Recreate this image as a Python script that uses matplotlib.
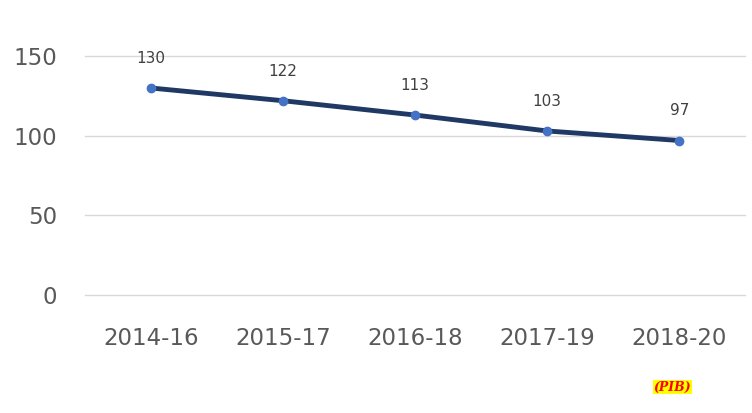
import matplotlib
matplotlib.use("Agg")
import matplotlib.pyplot as plt

periods = ["2014-16", "2015-17", "2016-18", "2017-19", "2018-20"]
mmr = [130, 122, 113, 103, 97]
y_ticks = [0, 50, 100, 150]

fig = plt.figure(figsize=(7.52, 4.13), dpi=100)
ax = fig.add_axes([0.113, 0.286, 0.878, 0.578])

x = range(len(periods))
ax.plot(x, mmr, color="#1f3864", linewidth=3.5, zorder=2)
ax.plot(x, mmr, linestyle="none", marker="o", markersize=6,
        color="#4472c4", zorder=3)

for i, v in enumerate(mmr):
    ax.annotate(str(v), (i, v), xytext=(0, 16), textcoords="offset points",
                ha="center", va="bottom", fontsize=11, color="#404040")

ax.set_xlim(-0.5, len(periods) - 0.5)
ax.set_ylim(0, 150)
ax.set_yticks(y_ticks)
ax.set_xticks(list(x))
ax.set_xticklabels(periods)
ax.tick_params(axis="both", length=0, labelsize=16.5, labelcolor="#595959")
ax.tick_params(axis="x", pad=23)
ax.tick_params(axis="y", pad=20)
ax.grid(axis="y", color="#d9d9d9", linewidth=1)
for gl in ax.get_ygridlines():
    gl.set_clip_on(False)
ax.set_axisbelow(True)
for s in ax.spines.values():
    s.set_visible(False)

fig.text(0.894, 0.063, "(PIB)", color="red", fontsize=9, fontstyle="italic",
         fontweight="bold", family="DejaVu Serif", ha="center", va="center",
         bbox=dict(facecolor="yellow", edgecolor="none", pad=0.5))

fig.savefig("out.png", dpi=100)
